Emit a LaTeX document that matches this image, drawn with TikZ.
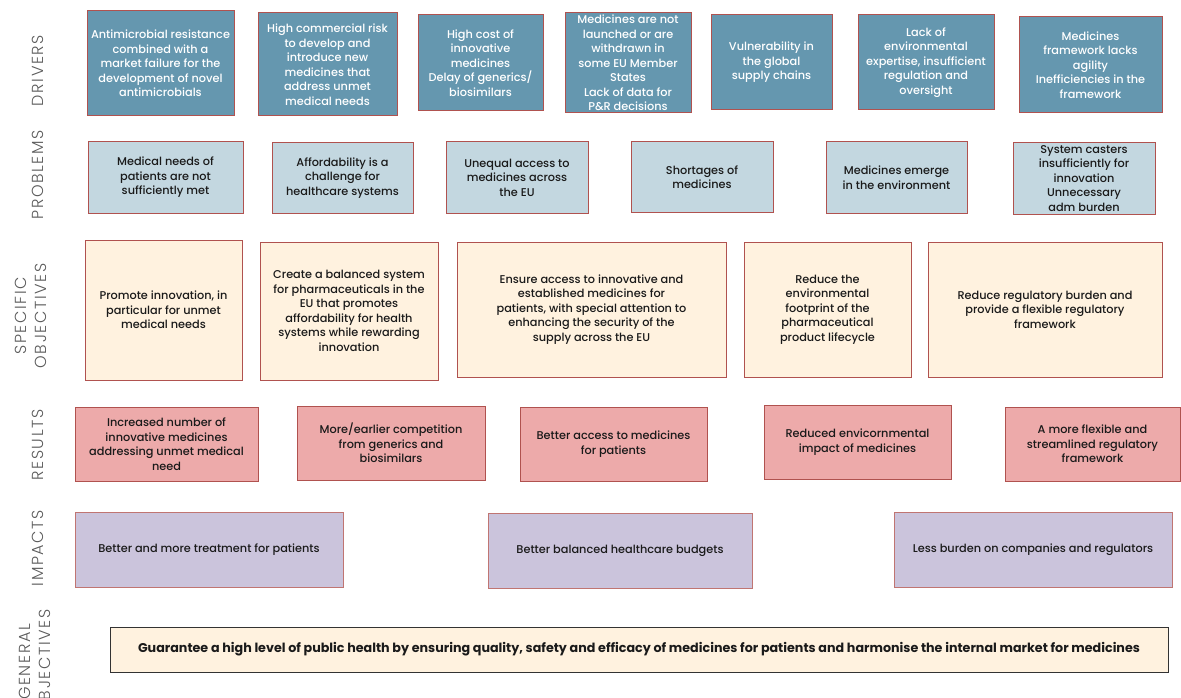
\documentclass[tikz,border=0pt]{standalone}
\usepackage{fontspec}
\setmainfont{Poppins Medium}[BoldFont={Poppins Bold}]
\newfontfamily\labfont{Poppins Light}[LetterSpace=10]
\definecolor{drvfill}{HTML}{6597AF}
\definecolor{prbfill}{HTML}{C3D7E0}
\definecolor{objfill}{HTML}{FFF2DF}
\definecolor{resfill}{HTML}{EDAAAA}
\definecolor{impfill}{HTML}{CBC4DC}
\definecolor{bordred}{HTML}{B0524F}
\definecolor{labgray}{HTML}{5A5A5A}
\definecolor{txtdark}{HTML}{1A1A1A}
\begin{document}
\begin{tikzpicture}[x=1pt,y=-1pt,
  box/.style={draw=bordred,line width=1pt,inner sep=0pt,align=center,
    font=\fontsize{11.3}{14.5}\selectfont,text=txtdark},
  drv/.style={box,fill=drvfill,text=white},
  prb/.style={box,fill=prbfill},
  obj/.style={box,fill=objfill},
  res/.style={box,fill=resfill},
  imp/.style={box,fill=impfill,draw=bordred!80},
  gen/.style={box,fill=objfill,draw=black!80,font=\bfseries\fontsize{12.7}{14}\selectfont},
  lab/.style={rotate=90,text=labgray,align=center,inner sep=0pt,
    font=\labfont\fontsize{16}{19.5}\selectfont}]
\useasboundingbox (0,0) rectangle (1181,698);
\clip (0,0) rectangle (1181,698);
% side labels
\node[lab] (ldrv) at (38,70.5) {DRIVERS};
\node[lab] (lprb) at (38,175) {PROBLEMS};
\node[lab] (lobj) at (31,316) {SPECIFIC\\OBJECTIVES};
\node[lab] (lres) at (38,445) {RESULTS};
\node[lab] (limp) at (38,548) {IMPACTS};
\node[lab] (lgen) at (35,662) {GENERAL\\OBJECTIVES};
% drivers
\node[drv,minimum width=147,minimum height=105] (d1) at (160.5,63.5) {Antimicrobial resistance\\combined with a\\market failure for the\\development of novel\\antimicrobials};
\node[drv,minimum width=139,minimum height=103] (d2) at (327.5,64.5) {High commercial risk\\to develop and\\introduce new\\medicines that\\address unmet\\medical needs};
\node[drv,minimum width=125,minimum height=96] (d3) at (480.5,63) {High cost of\\innovative\\medicines\\Delay of generics/\\biosimilars};
\node[drv,minimum width=126,minimum height=100] (d4) at (628,63) {Medicines are not\\launched or are\\withdrawn in\\some EU Member\\States\\Lack of data for\\P\&R decisions};
\node[drv,minimum width=121,minimum height=95] (d5) at (771.5,62.5) {Vulnerability in\\the global\\supply chains};
\node[drv,minimum width=136,minimum height=95] (d6) at (926,62.5) {Lack of\\environmental\\expertise, insufficient\\regulation and\\oversight};
\node[drv,minimum width=143,minimum height=96] (d7) at (1090.5,65) {Medicines\\framework lacks\\agility\\Inefficiencies in the\\framework};
% problems
\node[prb,minimum width=155,minimum height=71] (p1) at (165.5,177.5) {Medical needs of\\patients are not\\sufficiently met};
\node[prb,minimum width=141,minimum height=70] (p2) at (342.5,178) {Affordability is a\\challenge for\\healthcare systems};
\node[prb,minimum width=142,minimum height=71] (p3) at (517,177.5) {Unequal access to\\medicines across\\the EU};
\node[prb,minimum width=142,minimum height=70] (p4) at (702,177) {Shortages of\\medicines};
\node[prb,minimum width=141,minimum height=71] (p5) at (896.5,177.5) {Medicines emerge\\in the environment};
\node[prb,minimum width=142,minimum height=71] (p6) at (1084,178.5) {System casters\\insufficiently for\\innovation\\Unnecessary\\adm burden};
% specific objectives
\node[obj,minimum width=157,minimum height=140] (s1) at (163.5,310) {Promote innovation, in\\particular for unmet\\medical needs};
\node[obj,minimum width=178,minimum height=138] (s2) at (349,311) {Create a balanced system\\for pharmaceuticals in the\\EU that promotes\\affordability for health\\systems while rewarding\\innovation};
\node[obj,minimum width=269,minimum height=135] (s3) at (591.5,309.5) {Ensure access to innovative and\\established medicines for\\patients, with special attention to\\enhancing the security of the\\supply across the EU};
\node[obj,minimum width=167,minimum height=135] (s4) at (827.5,309.5) {Reduce the\\environmental\\footprint of the\\pharmaceutical\\product lifecycle};
\node[obj,minimum width=234,minimum height=135] (s5) at (1045,309.5) {Reduce regulatory burden and\\provide a flexible regulatory\\framework};
% results
\node[res,minimum width=183,minimum height=74] (r1) at (166.5,444) {Increased number of\\innovative medicines\\addressing unmet medical\\need};
\node[res,minimum width=188,minimum height=74] (r2) at (391,443) {More/earlier competition\\from generics and\\biosimilars};
\node[res,minimum width=187,minimum height=74] (r3) at (613.5,444) {Better access to medicines\\for patients};
\node[res,minimum width=187,minimum height=74] (r4) at (857.5,442) {Reduced envicornmental\\impact of medicines};
\node[res,minimum width=175,minimum height=74] (r5) at (1092.5,444) {A more flexible and\\streamlined regulatory\\framework};
% impacts
\node[imp,minimum width=268,minimum height=75] (i1) at (209,549.5) {Better and more treatment for patients};
\node[imp,minimum width=264,minimum height=75] (i2) at (620,550.5) {Better balanced healthcare budgets};
\node[imp,minimum width=278,minimum height=75] (i3) at (1033,549.5) {Less burden on companies and regulators};
% general objective
\node[gen,minimum width=1058,minimum height=45] (g) at (639,649.5) {Guarantee a high level of public health by ensuring quality, safety and efficacy of medicines for patients and harmonise the internal market for medicines};
\end{tikzpicture}
\end{document}
